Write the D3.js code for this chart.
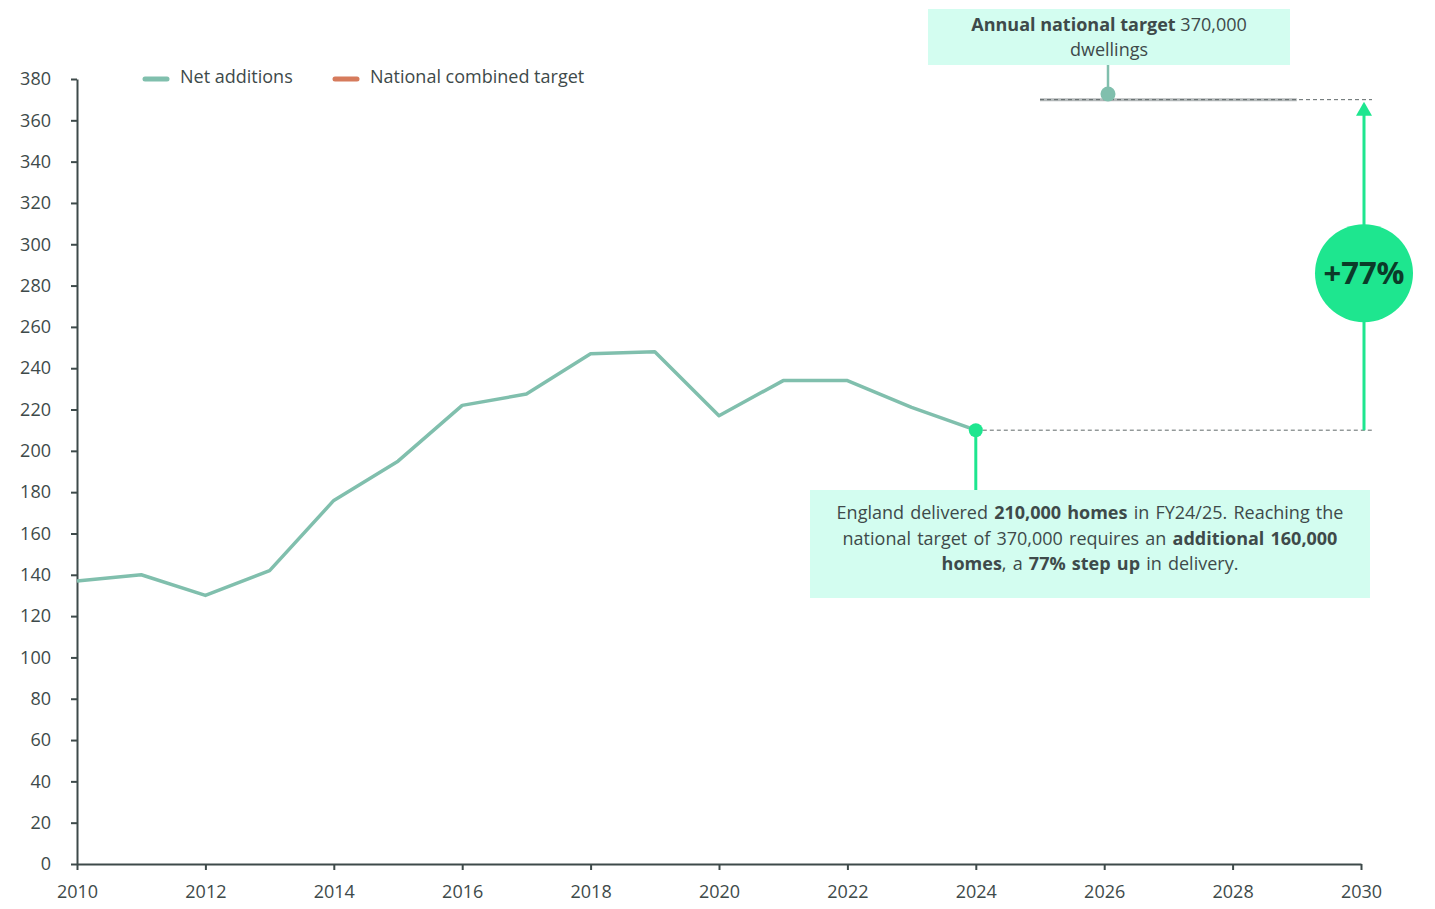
<!DOCTYPE html>
<html>
<head>
<meta charset="utf-8">
<script src="https://cdn.jsdelivr.net/npm/d3@7"></script>
<style>
  body { margin: 0; background: #fff; }
  svg { display: block; font-family: "Open Sans", "Noto Sans", sans-serif; }
</style>
</head>
<body>
<svg id="chart" width="1435" height="909"></svg>
<script>
// Net additions to the dwelling stock, England (thousands)
const years = [2010, 2011, 2012, 2013, 2014, 2015, 2016, 2017, 2018, 2019, 2020, 2021, 2022, 2023, 2024];
const netAdditions = [137, 140, 130, 142, 176, 195, 222, 227.5, 247, 248, 217, 234, 234, 221, 210];

// National combined target (thousands per year)
const targetYears = [2025, 2026, 2027, 2028, 2029];
const targetValues = [370, 370, 370, 370, 370];

const xTicks = [2010, 2012, 2014, 2016, 2018, 2020, 2022, 2024, 2026, 2028, 2030];
const yTicks = d3.range(0, 381, 20);

const legendItems = ["Net additions", "National combined target"];
const stepUpLabel = "+77%";

const FONT = "'Open Sans', 'Noto Sans', sans-serif";
const FS = "18px";

const colors = {
  net: "#80bfad",
  target: "#d67b5c",
  targetLine: "#b4b9ba",
  accent: "#1ee68f",
  box: "#d3fdf0",
  text: "#3e4a4a",
  axis: "#3e4a4a"
};

const svg = d3.select("#chart");
const x = d3.scaleLinear().domain([2010, 2030]).range([77, 1361]);
const y = d3.scaleLinear().domain([0, 380]).range([864, 79]);

// Axes
const yAxis = svg.append("g")
  .attr("transform", `translate(${x(2010)},0)`)
  .call(d3.axisLeft(y).tickValues(yTicks).tickSize(6).tickPadding(20).tickSizeOuter(0));
const xAxis = svg.append("g")
  .attr("transform", `translate(0,${y(0)})`)
  .call(d3.axisBottom(x).tickValues(xTicks).tickFormat(d3.format("d")).tickSize(6).tickPadding(15).tickSizeOuter(0));

[yAxis, xAxis].forEach(g => {
  g.select(".domain").attr("stroke", colors.axis).attr("stroke-width", 2);
  g.selectAll(".tick line").attr("stroke", colors.axis).attr("stroke-width", 2);
  g.selectAll(".tick text").attr("fill", colors.text).style("font-size", FS).style("font-family", FONT);
});

// Net additions series
const line = d3.line().x((d, i) => x(years[i])).y(d => y(d));
svg.append("path")
  .datum(netAdditions)
  .attr("fill", "none")
  .attr("stroke", colors.net)
  .attr("stroke-width", 3.5)
  .attr("stroke-linejoin", "round")
  .attr("d", line);

// Target series
const tLine = d3.line().x((d, i) => x(targetYears[i])).y(d => y(d));
svg.append("path")
  .datum(targetValues)
  .attr("fill", "none")
  .attr("stroke", colors.targetLine)
  .attr("stroke-width", 3)
  .attr("d", tLine);

const lastYear = years[years.length - 1];
const lastValue = netAdditions[netAdditions.length - 1];
const target = targetValues[0];
const arrowX = x(2030) + 3;
const dashEnd = x(2030) + 11;

// Dashed reference lines
svg.append("line")
  .attr("x1", x(2025)).attr("x2", dashEnd)
  .attr("y1", y(target)).attr("y2", y(target))
  .attr("stroke", "#5f6869").attr("stroke-width", 1).attr("stroke-dasharray", "4,3");
svg.append("line")
  .attr("x1", x(lastYear)).attr("x2", dashEnd)
  .attr("y1", y(lastValue)).attr("y2", y(lastValue))
  .attr("stroke", "#5f6869").attr("stroke-width", 1).attr("stroke-dasharray", "4,3");

// Step-up arrow
svg.append("line")
  .attr("x1", arrowX).attr("x2", arrowX)
  .attr("y1", y(lastValue)).attr("y2", y(target) + 14)
  .attr("stroke", colors.accent).attr("stroke-width", 3);
svg.append("path")
  .attr("d", `M${arrowX},${y(target) + 2} L${arrowX - 8},${y(target) + 16} L${arrowX + 8},${y(target) + 16} Z`)
  .attr("fill", colors.accent);
const cy = y(286);
svg.append("circle")
  .attr("cx", arrowX).attr("cy", cy).attr("r", 49)
  .attr("fill", colors.accent);
svg.append("text")
  .attr("x", arrowX).attr("y", cy + 11)
  .attr("text-anchor", "middle")
  .attr("fill", "#0b3b29")
  .style("font-size", "31px").style("font-weight", 700)
  .text(stepUpLabel);

// 2024 marker and callout
svg.append("line")
  .attr("x1", x(lastYear)).attr("x2", x(lastYear))
  .attr("y1", y(lastValue)).attr("y2", 490)
  .attr("stroke", colors.accent).attr("stroke-width", 3);
svg.append("circle")
  .attr("cx", x(lastYear)).attr("cy", y(lastValue)).attr("r", 7)
  .attr("fill", colors.accent);

svg.append("rect")
  .attr("x", 810).attr("y", 490).attr("width", 560).attr("height", 108)
  .attr("fill", colors.box);
const callLines = [
  [["England delivered ", 400], ["210,000 homes", 700], [" in FY24/25. Reaching the", 400]],
  [["national target of 370,000 requires an ", 400], ["additional 160,000", 700]],
  [["homes", 700], [", a ", 400], ["77% step up", 700], [" in delivery.", 400]]
];
callLines.forEach((parts, i) => {
  const t = svg.append("text")
    .attr("x", 1090).attr("y", 519 + i * 25.5)
    .attr("text-anchor", "middle")
    .attr("fill", colors.text)
    .style("font-size", FS)
    .style("word-spacing", "1.5px");
  parts.forEach(([s, w]) => t.append("tspan").style("font-weight", w).text(s));
});

// Target callout
svg.append("line")
  .attr("x1", 1108).attr("x2", 1108)
  .attr("y1", 65).attr("y2", 94)
  .attr("stroke", colors.net).attr("stroke-width", 2.5);
svg.append("circle")
  .attr("cx", 1108).attr("cy", 94).attr("r", 7.5)
  .attr("fill", colors.net);
svg.append("rect")
  .attr("x", 928).attr("y", 9).attr("width", 362).attr("height", 56)
  .attr("fill", colors.box);
const t1 = svg.append("text")
  .attr("x", 1109).attr("y", 31).attr("text-anchor", "middle")
  .attr("fill", colors.text).style("font-size", FS);
t1.append("tspan").style("font-weight", 700).text("Annual national target");
t1.append("tspan").text(" 370,000");
svg.append("text")
  .attr("x", 1109).attr("y", 56).attr("text-anchor", "middle")
  .attr("fill", colors.text).style("font-size", FS)
  .text("dwellings");

// Legend
const legend = svg.append("g");
const legendX = [143, 333];
const legendColors = [colors.net, colors.target];
legendItems.forEach((name, i) => {
  legend.append("line")
    .attr("x1", legendX[i] + 2).attr("x2", legendX[i] + 24)
    .attr("y1", 79).attr("y2", 79)
    .attr("stroke", legendColors[i]).attr("stroke-width", 5).attr("stroke-linecap", "round");
  legend.append("text")
    .attr("x", legendX[i] + 37).attr("y", 83)
    .attr("fill", colors.text).style("font-size", FS)
    .text(name);
});
</script>
</body>
</html>
